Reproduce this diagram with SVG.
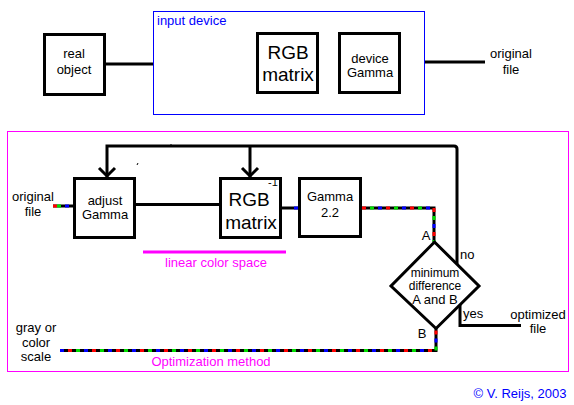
<svg xmlns="http://www.w3.org/2000/svg" width="574" height="405" viewBox="0 0 574 405">
<style>
.box{fill:#fff;stroke:#000;stroke-width:3}
.ln{fill:none;stroke:#000;stroke-width:3}
.t{font-family:"Liberation Sans",Arial,sans-serif;font-size:13px;fill:#000;text-anchor:middle}
.big{font-size:19px}
.m{fill:#f0f}
.b{fill:#00f}
.cr{fill:none;stroke:#f00;stroke-width:3;stroke-dasharray:4 20}
.cg{fill:none;stroke:#0d0;stroke-width:3;stroke-dasharray:4 20;stroke-dashoffset:-8}
.cb{fill:none;stroke:#00f;stroke-width:3;stroke-dasharray:4 20;stroke-dashoffset:-16}
</style>
<rect width="574" height="405" fill="#fff"/>
<g id="frames">
<rect x="153.5" y="11.5" width="271" height="103" fill="none" stroke="#00f" stroke-width="1"/>
<rect x="7.5" y="131.5" width="561" height="240" fill="none" stroke="#f0f" stroke-width="1"/>
<text class="t b" x="157" y="25" style="text-anchor:start">input device</text>
</g>
<g id="connectors">
<path class="ln" d="M106 64H153"/>
<path class="ln" d="M425 62H485"/>
<path class="ln" d="M136 204.5H219" stroke-width="4"/>
<path class="ln" d="M107 177V146H454Q457 146 457 149V264"/>
<path class="ln" d="M99 168L107 176L115 168"/>
<path class="ln" d="M250 146V177"/>
<path class="ln" d="M242 168L250 176L258 168"/>
<path class="ln" d="M460 305V325.5H521"/>
<path d="M171 146V144M137 165L138 163" stroke="#000" stroke-width="1"/>
<g id="colorlines">
<path class="ln" d="M53 206H73"/>
<path class="cr" d="M53 206H73"/><path class="cg" d="M53 206H73" style="stroke-dashoffset:-4"/><path class="cb" d="M53 206H73" style="stroke-dashoffset:-12"/>
<path class="ln" d="M282 208H298"/>
<path class="cb" d="M282 208H298" style="stroke-dashoffset:-12"/>
<path class="ln" d="M362 208H434V242"/>
<path class="cr" d="M362 208H434V242"/><path class="cg" d="M362 208H434V242"/><path class="cb" d="M362 208H434V242"/>
<path class="ln" d="M60 350.5H436V328"/>
<path class="cb" d="M60 350.5H436V328" style="stroke-dashoffset:0"/><path class="cr" d="M60 350.5H436V328" style="stroke-dashoffset:-8"/><path class="cg" d="M60 350.5H436V328" style="stroke-dashoffset:-16"/>
</g>
<path d="M143 252H286" stroke="#f0f" stroke-width="3"/>
</g>
<g id="real-object">
<rect class="box" x="44.5" y="34.5" width="60" height="60"/>
<text class="t" x="74" y="58">real</text><text class="t" x="74" y="74">object</text>
</g>
<g id="rgb-matrix-top">
<rect class="box" x="257.5" y="33.5" width="60" height="59"/>
<text class="t big" x="288" y="59">RGB</text><text class="t big" x="288" y="81">matrix</text>
</g>
<g id="device-gamma">
<rect class="box" x="339.5" y="33.5" width="60" height="59"/>
<text class="t" x="370" y="63">device</text><text class="t" x="370" y="77">Gamma</text>
</g>
<g id="original-file-top">
<text class="t" x="511" y="58">original</text><text class="t" x="511" y="74">file</text>
</g>
<g id="original-file-in">
<text class="t" x="33" y="201">original</text><text class="t" x="33" y="216">file</text>
</g>
<g id="adjust-gamma">
<rect class="box" x="74.5" y="178.5" width="60" height="59"/>
<text class="t" x="105" y="205">adjust</text><text class="t" x="105" y="219">Gamma</text>
</g>
<g id="rgb-matrix-inv">
<rect class="box" x="220.5" y="178.5" width="60" height="59"/>
<text class="t big" x="249" y="206">RGB</text><text class="t big" x="251" y="229">matrix</text>
<text class="t" x="273" y="186" style="font-size:11px">-1</text>
</g>
<g id="gamma-22">
<rect class="box" x="299.5" y="178.5" width="61" height="58"/>
<text class="t" x="330" y="201">Gamma</text><text class="t" x="330" y="217">2.2</text>
</g>
<g id="decision">
<path class="box" d="M434.5 242L479 286L436 328.5L391 286Z"/>
<text class="t" x="435" y="277" style="font-size:12px">minimum</text>
<text class="t" x="435" y="290" style="font-size:12px">difference</text>
<text class="t" x="435" y="304">A and B</text>
<text class="t" x="426" y="240">A</text>
<text class="t" x="422" y="338">B</text>
<text class="t" x="460" y="259" style="text-anchor:start">no</text>
<text class="t" x="463" y="318" style="text-anchor:start">yes</text>
</g>
<g id="optimized-file">
<text class="t" x="538" y="319">optimized</text><text class="t" x="538" y="333">file</text>
</g>
<g id="gray-scale">
<text class="t" x="36" y="332">gray or</text><text class="t" x="36" y="347">color</text><text class="t" x="36" y="361">scale</text>
</g>
<g id="labels">
<text class="t m" x="216" y="267">linear color space</text>
<text class="t m" x="211" y="366">Optimization method</text>
<text class="t b" x="520" y="398">© V. Reijs, 2003</text>
</g>
</svg>
